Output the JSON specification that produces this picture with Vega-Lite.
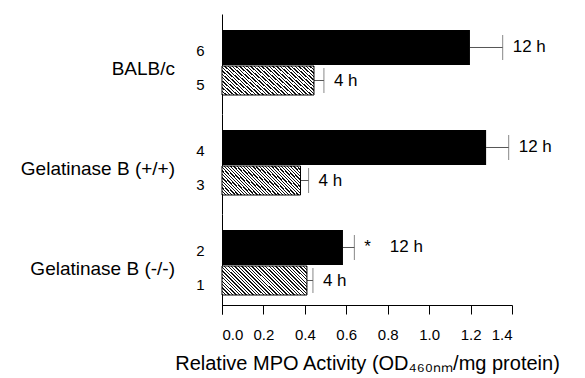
{
  "$schema": "https://vega.github.io/schema/vega-lite/v6.json",
  "padding": {"left": 20, "top": 14, "right": 5, "bottom": 5},
  "data": {
    "values": [
      {"group": "BALB/c", "bar": "6", "time": "12 h", "value": 1.197, "upper": 1.355, "label": "12 h"},
      {"group": "BALB/c", "bar": "5", "time": "4 h", "value": 0.444, "upper": 0.492, "label": "4 h"},
      {"group": "Gelatinase B (+/+)", "bar": "4", "time": "12 h", "value": 1.275, "upper": 1.384, "label": "12 h"},
      {"group": "Gelatinase B (+/+)", "bar": "3", "time": "4 h", "value": 0.379, "upper": 0.418, "label": "4 h"},
      {"group": "Gelatinase B (-/-)", "bar": "2", "time": "12 h", "value": 0.584, "upper": 0.639, "label": "*\u00a0\u00a0\u00a0\u00a012 h"},
      {"group": "Gelatinase B (-/-)", "bar": "1", "time": "4 h", "value": 0.41, "upper": 0.439, "label": "4 h"}
    ]
  },
  "facet": {
    "row": {
      "field": "group",
      "type": "nominal",
      "sort": ["BALB/c", "Gelatinase B (+/+)", "Gelatinase B (-/-)"],
      "title": null,
      "header": {
        "labelAngle": 0,
        "labelAlign": "left",
        "labelOrient": "left",
        "labelBaseline": "line-top",
        "labelLineHeight": 11,
        "labelFont": "Liberation Sans",
        "labelFontSize": 19,
        "labelColor": "black",
        "labelPadding": 20
      }
    }
  },
  "spacing": 0,
  "spec": {
    "width": 290,
    "height": 100,
    "layer": [
      {
        "mark": {"type": "rule", "color": "#555", "strokeWidth": 1},
        "encoding": {
          "x": {"field": "value", "type": "quantitative", "title": "Relative MPO Activity (OD\u2084\u2086\u2080\u2099\u2098/mg protein)"},
          "x2": {"field": "upper"},
          "y": {
            "field": "bar",
            "type": "nominal",
            "sort": "descending",
            "title": null,
            "scale": {"paddingInner": 0, "paddingOuter": 0.515},
            "axis": {"domain": true, "domainColor": "black", "ticks": false, "labelPadding": 18, "labelFontSize": 15, "labelColor": "black", "labelOffset": 4, "labelFont": "Liberation Sans"}
          }
        }
      },
      {
        "mark": {"type": "tick", "color": "#555", "size": 25, "thickness": 1},
        "encoding": {
          "x": {"field": "upper", "type": "quantitative", "title": "Relative MPO Activity (OD\u2084\u2086\u2080\u2099\u2098/mg protein)"},
          "y": {"field": "bar", "type": "nominal", "sort": "descending", "title": null}
        }
      },
      {
        "transform": [{"filter": "datum.time === '12 h'"}],
        "mark": {"type": "bar", "color": "black", "size": 35},
        "encoding": {
          "x": {
            "field": "value",
            "type": "quantitative",
            "title": "Relative MPO Activity (OD\u2084\u2086\u2080\u2099\u2098/mg protein)",
            "scale": {"domain": [0, 1.4], "nice": false, "zero": true},
            "axis": {
              "values": [0, 0.2, 0.4, 0.6, 0.8, 1.0, 1.2, 1.4],
              "format": ".1f",
              "tickSize": 9,
              "offset": -9,
              "grid": false,
              "labelFontSize": 15,
              "labelPadding": 13,
              "labelColor": "black",
              "domainColor": "black",
              "tickColor": "black",
              "titleFontSize": 20,
              "titleFontWeight": "normal",
              "titleColor": "black",
              "titlePadding": 11
            }
          },
          "y": {"field": "bar", "type": "nominal", "sort": "descending", "title": null}
        }
      },
      {
        "transform": [{"filter": "datum.time === '4 h'"}],
        "mark": {
          "type": "bar",
          "size": 29,
          "stroke": "black",
          "strokeWidth": 1,
          "fill": {
            "gradient": "linear",
            "x1": 0, "y1": 1, "x2": 1.2, "y2": 0.588,
            "stops": [
              {"offset": 0, "color": "#111"}, {"offset": 0.012, "color": "#111"}, {"offset": 0.012, "color": "#fff"}, {"offset": 0.03, "color": "#fff"},
              {"offset": 0.03, "color": "#111"}, {"offset": 0.042, "color": "#111"}, {"offset": 0.042, "color": "#fff"}, {"offset": 0.06, "color": "#fff"},
              {"offset": 0.06, "color": "#111"}, {"offset": 0.072, "color": "#111"}, {"offset": 0.072, "color": "#fff"}, {"offset": 0.09, "color": "#fff"},
              {"offset": 0.09, "color": "#111"}, {"offset": 0.102, "color": "#111"}, {"offset": 0.102, "color": "#fff"}, {"offset": 0.12, "color": "#fff"},
              {"offset": 0.12, "color": "#111"}, {"offset": 0.132, "color": "#111"}, {"offset": 0.132, "color": "#fff"}, {"offset": 0.15, "color": "#fff"},
              {"offset": 0.15, "color": "#111"}, {"offset": 0.162, "color": "#111"}, {"offset": 0.162, "color": "#fff"}, {"offset": 0.18, "color": "#fff"},
              {"offset": 0.18, "color": "#111"}, {"offset": 0.192, "color": "#111"}, {"offset": 0.192, "color": "#fff"}, {"offset": 0.21, "color": "#fff"},
              {"offset": 0.21, "color": "#111"}, {"offset": 0.222, "color": "#111"}, {"offset": 0.222, "color": "#fff"}, {"offset": 0.24, "color": "#fff"},
              {"offset": 0.24, "color": "#111"}, {"offset": 0.252, "color": "#111"}, {"offset": 0.252, "color": "#fff"}, {"offset": 0.27, "color": "#fff"},
              {"offset": 0.27, "color": "#111"}, {"offset": 0.282, "color": "#111"}, {"offset": 0.282, "color": "#fff"}, {"offset": 0.3, "color": "#fff"},
              {"offset": 0.3, "color": "#111"}, {"offset": 0.312, "color": "#111"}, {"offset": 0.312, "color": "#fff"}, {"offset": 0.33, "color": "#fff"},
              {"offset": 0.33, "color": "#111"}, {"offset": 0.342, "color": "#111"}, {"offset": 0.342, "color": "#fff"}, {"offset": 0.36, "color": "#fff"},
              {"offset": 0.36, "color": "#111"}, {"offset": 0.372, "color": "#111"}, {"offset": 0.372, "color": "#fff"}, {"offset": 0.39, "color": "#fff"},
              {"offset": 0.39, "color": "#111"}, {"offset": 0.402, "color": "#111"}, {"offset": 0.402, "color": "#fff"}, {"offset": 0.42, "color": "#fff"},
              {"offset": 0.42, "color": "#111"}, {"offset": 0.432, "color": "#111"}, {"offset": 0.432, "color": "#fff"}, {"offset": 0.45, "color": "#fff"},
              {"offset": 0.45, "color": "#111"}, {"offset": 0.462, "color": "#111"}, {"offset": 0.462, "color": "#fff"}, {"offset": 0.48, "color": "#fff"},
              {"offset": 0.48, "color": "#111"}, {"offset": 0.492, "color": "#111"}, {"offset": 0.492, "color": "#fff"}, {"offset": 0.51, "color": "#fff"},
              {"offset": 0.51, "color": "#111"}, {"offset": 0.522, "color": "#111"}, {"offset": 0.522, "color": "#fff"}, {"offset": 0.54, "color": "#fff"},
              {"offset": 0.54, "color": "#111"}, {"offset": 0.552, "color": "#111"}, {"offset": 0.552, "color": "#fff"}, {"offset": 0.57, "color": "#fff"},
              {"offset": 0.57, "color": "#111"}, {"offset": 0.582, "color": "#111"}, {"offset": 0.582, "color": "#fff"}, {"offset": 0.6, "color": "#fff"},
              {"offset": 0.6, "color": "#111"}, {"offset": 0.612, "color": "#111"}, {"offset": 0.612, "color": "#fff"}, {"offset": 0.63, "color": "#fff"},
              {"offset": 0.63, "color": "#111"}, {"offset": 0.642, "color": "#111"}, {"offset": 0.642, "color": "#fff"}, {"offset": 0.66, "color": "#fff"},
              {"offset": 0.66, "color": "#111"}, {"offset": 0.672, "color": "#111"}, {"offset": 0.672, "color": "#fff"}, {"offset": 0.69, "color": "#fff"},
              {"offset": 0.69, "color": "#111"}, {"offset": 0.702, "color": "#111"}, {"offset": 0.702, "color": "#fff"}, {"offset": 0.72, "color": "#fff"},
              {"offset": 0.72, "color": "#111"}, {"offset": 0.732, "color": "#111"}, {"offset": 0.732, "color": "#fff"}, {"offset": 0.75, "color": "#fff"},
              {"offset": 0.75, "color": "#111"}, {"offset": 0.762, "color": "#111"}, {"offset": 0.762, "color": "#fff"}, {"offset": 0.78, "color": "#fff"},
              {"offset": 0.78, "color": "#111"}, {"offset": 0.792, "color": "#111"}, {"offset": 0.792, "color": "#fff"}, {"offset": 0.81, "color": "#fff"},
              {"offset": 0.81, "color": "#111"}, {"offset": 0.822, "color": "#111"}, {"offset": 0.822, "color": "#fff"}, {"offset": 0.84, "color": "#fff"},
              {"offset": 0.84, "color": "#111"}, {"offset": 0.852, "color": "#111"}, {"offset": 0.852, "color": "#fff"}, {"offset": 0.87, "color": "#fff"},
              {"offset": 0.87, "color": "#111"}, {"offset": 0.882, "color": "#111"}, {"offset": 0.882, "color": "#fff"}, {"offset": 0.9, "color": "#fff"},
              {"offset": 0.9, "color": "#111"}, {"offset": 0.912, "color": "#111"}, {"offset": 0.912, "color": "#fff"}, {"offset": 0.93, "color": "#fff"},
              {"offset": 0.93, "color": "#111"}, {"offset": 0.942, "color": "#111"}, {"offset": 0.942, "color": "#fff"}, {"offset": 0.96, "color": "#fff"},
              {"offset": 0.96, "color": "#111"}, {"offset": 0.972, "color": "#111"}, {"offset": 0.972, "color": "#fff"}, {"offset": 0.99, "color": "#fff"},
              {"offset": 0.99, "color": "#111"}, {"offset": 1, "color": "#111"}
            ]
          }
        },
        "encoding": {
          "x": {"field": "value", "type": "quantitative", "title": "Relative MPO Activity (OD\u2084\u2086\u2080\u2099\u2098/mg protein)"},
          "y": {"field": "bar", "type": "nominal", "sort": "descending", "title": null}
        }
      },
      {
        "mark": {"type": "text", "align": "left", "baseline": "middle", "dx": 10, "fontSize": 17, "color": "black", "font": "Liberation Sans"},
        "encoding": {
          "x": {"field": "upper", "type": "quantitative", "title": "Relative MPO Activity (OD\u2084\u2086\u2080\u2099\u2098/mg protein)"},
          "y": {"field": "bar", "type": "nominal", "sort": "descending", "title": null},
          "text": {"field": "label"}
        }
      }
    ]
  },
  "resolve": {"scale": {"y": "independent"}},
  "config": {
    "view": {"stroke": null},
    "font": "Liberation Sans",
    "axis": {"labelFont": "Liberation Sans", "titleFont": "Liberation Sans", "labelFontSize": 15, "labelColor": "black"}
  }
}
